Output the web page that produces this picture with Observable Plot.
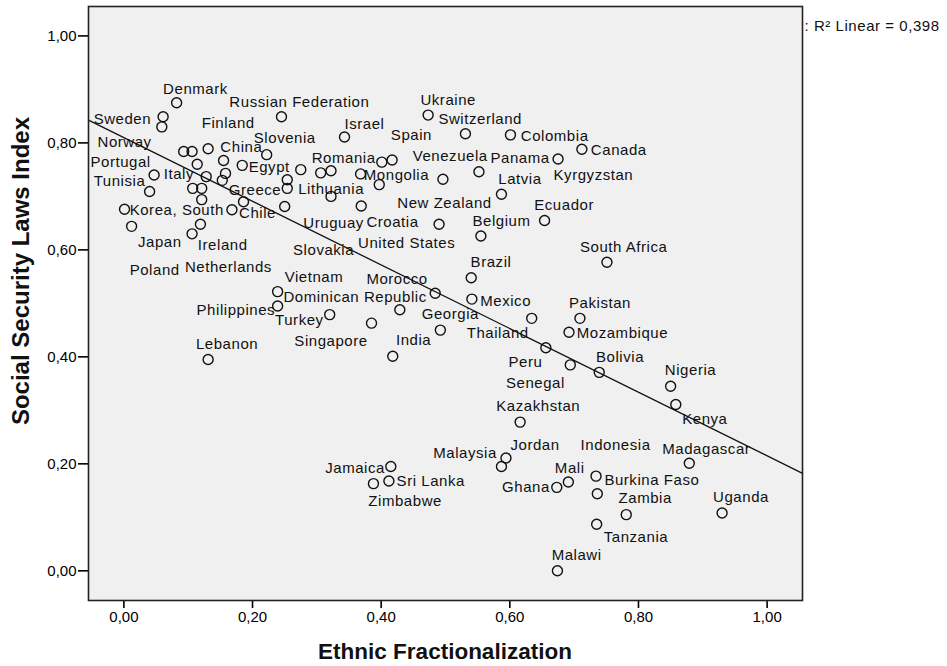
<!DOCTYPE html>
<html>
<head>
<meta charset="utf-8">
<script src="https://cdn.jsdelivr.net/npm/d3@7"></script>
<script src="https://cdn.jsdelivr.net/npm/@observablehq/plot@0.6"></script>
<style>
  html, body { margin: 0; padding: 0; background: white; }
</style>
</head>
<body>
<div id="chart"></div>
<script>
// Ethnic fractionalization (x) and Social Security Laws Index (y), one entry per country point
const ethnic = [0.082,0.061,0.059,0.245,0.343,0.093,0.106,0.131,0.222,0.114,0.155,0.184,0.275,0.306,0.322,0.401,0.417,0.047,0.128,0.158,0.153,0.254,0.254,0.368,0.397,0.040,0.107,0.121,0.322,0.121,0.186,0.001,0.168,0.250,0.369,0.012,0.119,0.106,0.239,0.239,0.320,0.385,0.131,0.418,0.429,0.473,0.531,0.601,0.712,0.675,0.552,0.496,0.587,0.654,0.490,0.555,0.751,0.540,0.484,0.541,0.634,0.709,0.692,0.492,0.656,0.694,0.739,0.850,0.858,0.616,0.594,0.587,0.415,0.412,0.388,0.879,0.734,0.691,0.673,0.736,0.781,0.930,0.735,0.674];
const ssli = [0.875,0.849,0.830,0.849,0.811,0.784,0.784,0.789,0.778,0.760,0.767,0.758,0.750,0.744,0.748,0.764,0.768,0.740,0.737,0.743,0.730,0.731,0.715,0.742,0.722,0.709,0.715,0.715,0.700,0.694,0.690,0.676,0.675,0.681,0.682,0.644,0.648,0.630,0.522,0.495,0.479,0.463,0.395,0.401,0.488,0.852,0.817,0.815,0.788,0.770,0.746,0.732,0.704,0.655,0.648,0.626,0.577,0.548,0.519,0.508,0.472,0.472,0.446,0.450,0.417,0.385,0.371,0.345,0.311,0.278,0.211,0.195,0.195,0.168,0.163,0.201,0.177,0.166,0.156,0.144,0.105,0.108,0.087,0.000];

// Country labels and where SPSS placed them (in data units)
const labelNames = ["Denmark","Russian Federation","Ukraine","Switzerland","Sweden","Finland","Israel","Spain","Colombia","Norway","Slovenia","China","Canada","Portugal","Romania","Egypt","Venezuela","Panama","Italy","Mongolia","Tunisia","Greece","Lithuania","Latvia","Kyrgyzstan","New Zealand","Korea, South","Chile","Ecuador","Uruguay","Croatia","Japan","Ireland","Slovakia","United States","Belgium","South Africa","Poland","Netherlands","Brazil","Vietnam","Morocco","Dominican Republic","Philippines","Mexico","Pakistan","Turkey","Georgia","Singapore","Thailand","Mozambique","India","Lebanon","Peru","Bolivia","Senegal","Nigeria","Kazakhstan","Kenya","Jordan","Indonesia","Malaysia","Madagascar","Jamaica","Sri Lanka","Mali","Burkina Faso","Ghana","Zimbabwe","Zambia","Uganda","Tanzania","Malawi"];
const labelX = [0.061,0.164,0.461,0.489,-0.047,0.121,0.343,0.415,0.617,-0.041,0.202,0.150,0.726,-0.052,0.292,0.194,0.449,0.570,0.062,0.373,-0.047,0.163,0.271,0.582,0.668,0.425,0.009,0.179,0.638,0.279,0.377,0.022,0.115,0.263,0.364,0.542,0.709,0.009,0.095,0.539,0.250,0.377,0.248,0.113,0.554,0.692,0.235,0.463,0.265,0.533,0.704,0.423,0.112,0.598,0.734,0.594,0.841,0.579,0.868,0.601,0.710,0.481,0.837,0.313,0.424,0.670,0.747,0.588,0.380,0.769,0.916,0.746,0.665];
const labelY = [0.901,0.876,0.879,0.844,0.845,0.836,0.835,0.815,0.812,0.801,0.809,0.792,0.786,0.764,0.771,0.755,0.775,0.772,0.741,0.740,0.728,0.712,0.714,0.732,0.740,0.688,0.675,0.669,0.683,0.650,0.652,0.614,0.608,0.599,0.613,0.653,0.605,0.562,0.568,0.577,0.549,0.546,0.512,0.488,0.505,0.501,0.468,0.479,0.429,0.444,0.445,0.431,0.424,0.390,0.399,0.351,0.375,0.308,0.284,0.235,0.234,0.220,0.228,0.192,0.168,0.192,0.169,0.156,0.130,0.135,0.138,0.063,0.030];

const xTicks = [0, 0.2, 0.4, 0.6, 0.8, 1.0];
const yTicks = [0, 0.2, 0.4, 0.6, 0.8, 1.0];
const xDomain = [-0.055, 1.055];
const yDomain = [-0.0555, 1.055];
const fitNote = ": R\u00B2 Linear = 0,398";
const xTitle = "Ethnic Fractionalization";
const yTitle = "Social Security Laws Index";

const points = ethnic.map((x, i) => ({x, y: ssli[i]}));
const labels = labelNames.map((name, i) => ({name, x: labelX[i], y: labelY[i]}));

// least-squares fit line across the whole frame
const mx = d3.mean(ethnic), my = d3.mean(ssli);
const slope = d3.sum(points, d => (d.x - mx) * (d.y - my)) / d3.sum(points, d => (d.x - mx) ** 2);
const intercept = my - slope * mx;
const fit = xDomain.map(x => ({x, y: intercept + slope * x}));

const fmt = d => d.toFixed(2).replace(".", ",");
const font = "'Liberation Sans', Arial, Helvetica, sans-serif";

const chart = Plot.plot({
  width: 947,
  height: 666,
  marginLeft: 88,
  marginRight: 145,
  marginTop: 6,
  marginBottom: 66,
  style: {fontFamily: font, fontSize: "15px", background: "white", color: "black"},
  x: {domain: xDomain},
  y: {domain: yDomain},
  marks: [
    Plot.frame({fill: "#f0f0f0", stroke: "none"}),
    Plot.axisX({ticks: xTicks, tickFormat: fmt, tickSize: 8, tickPadding: 3, fontSize: 15, strokeWidth: 1.6, label: null}),
    Plot.axisY({ticks: yTicks, tickFormat: fmt, tickSize: 10, tickPadding: 2, fontSize: 15, strokeWidth: 1.6, label: null}),
    Plot.line(fit, {x: "x", y: "y", stroke: "#111", strokeWidth: 1.3}),
    Plot.dot(points, {x: "x", y: "y", r: 5, stroke: "#111", strokeWidth: 1.4, fill: "none"}),
    Plot.text(labels, {x: "x", y: "y", text: "name", textAnchor: "start", lineAnchor: "middle", fontSize: 15, fill: "#111"}),
    Plot.frame({stroke: "#222", strokeWidth: 1.6}),
    Plot.text([fitNote], {text: d => d, frameAnchor: "top-right", dx: 2, dy: 14, textAnchor: "start", fontSize: 15, fill: "#111"})
  ]
});

const svg = d3.select(chart);
// slightly wider letter spacing, as in the SPSS rendering
svg.selectAll('g[aria-label="text"] text').style("letter-spacing", "0.55px");

// axis titles
svg.append("text")
  .attr("x", 445).attr("y", 651)
  .attr("text-anchor", "middle").attr("dominant-baseline", "central")
  .attr("font-family", font).attr("font-weight", "bold").attr("font-size", 22.5)
  .attr("fill", "#111")
  .text(xTitle);
svg.append("text")
  .attr("transform", "translate(20,271) rotate(-90)")
  .attr("text-anchor", "middle").attr("dominant-baseline", "central")
  .attr("font-family", font).attr("font-weight", "bold").attr("font-size", 24)
  .attr("fill", "#111")
  .text(yTitle);

document.getElementById("chart").append(chart);
</script>
</body>
</html>
